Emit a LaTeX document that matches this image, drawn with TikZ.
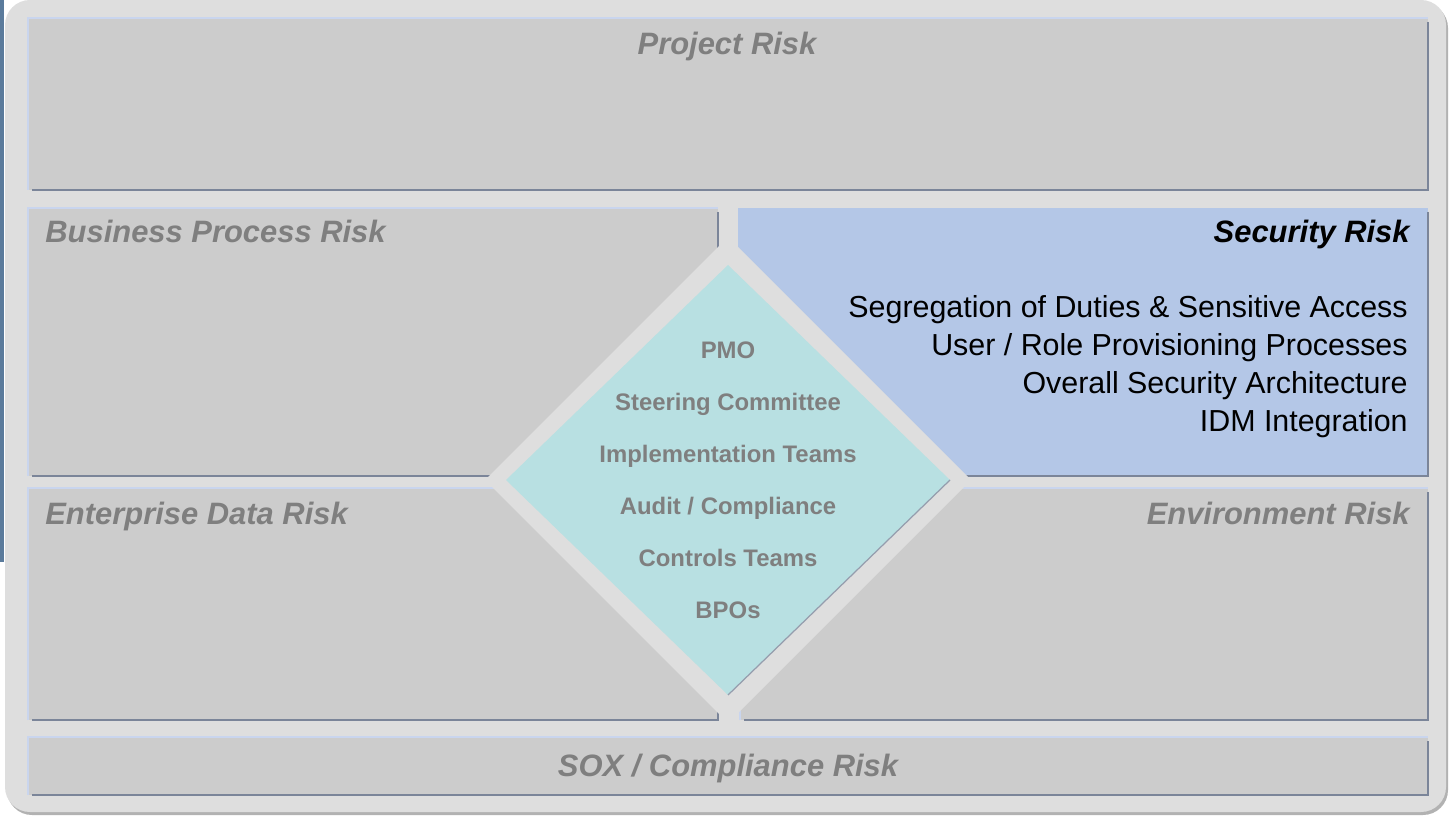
\documentclass[tikz,border=0pt]{standalone}
\usepackage{fontspec}
\setmainfont{Liberation Sans}
\definecolor{panelgray}{HTML}{DEDEDE}
\definecolor{boxgray}{HTML}{CCCCCC}
\definecolor{secblue}{HTML}{B4C7E7}
\definecolor{diamondfill}{HTML}{B8E0E2}
\definecolor{shadeline}{HTML}{7B8599}
\definecolor{lightline}{HTML}{C9D5EE}
\definecolor{titlegray}{HTML}{7F7F7F}
\definecolor{stripblue}{HTML}{5B7B9C}
\tikzset{
  riskbox/.style={fill=boxgray},
  hiline/.style={lightline, line width=0.6pt},
  loline/.style={shadeline, line width=1.4pt},
  risktitle/.style={font=\fontsize{17.6}{20}\selectfont\bfseries\itshape, text=titlegray, inner sep=0pt},
  secitem/.style={font=\fontsize{17.3}{20}\selectfont, inner sep=0pt, anchor=base east},
  role/.style={font=\fontsize{13.6}{16}\selectfont\bfseries, text=titlegray, inner sep=0pt, anchor=base},
}
\begin{document}
\begin{tikzpicture}[x=0.02cm,y=-0.02cm]
\useasboundingbox (0,0) rectangle (1449,817);
%\draw[step=50,gray,very thin] (0,0) grid (1449,817); %background grid
\fill[stripblue] (0,0) rectangle (4,562);
% outer panel
\fill[gray!60, rounded corners=0.5cm] (7,3) rectangle (1448,815);
\fill[panelgray, rounded corners=0.5cm] (5,0) rectangle (1446,812);

% project
\fill[riskbox] (28,18) rectangle (1428,190);
\draw[hiline] (28,190) |- (1428,18);
\draw[loline] (1428,22) |- (32,190);
% business process
\fill[riskbox] (28,208) rectangle (718,476);
\draw[hiline] (28,476) |- (718,208);
\draw[loline] (718,212) |- (32,476);
% security
\fill[secblue] (738,208) rectangle (1428,476);
\draw[loline] (1428,212) |- (742,476);
% enterprise data
\fill[riskbox] (28,488) rectangle (718,720);
\draw[hiline] (28,720) |- (718,488);
\draw[loline] (718,492) |- (32,720);
% environment
\fill[riskbox] (740,488) rectangle (1428,720);
\draw[hiline] (740,720) |- (1428,488);
\draw[loline] (1428,492) |- (744,720);
% sox
\fill[riskbox] (28,737) rectangle (1428,795);
\draw[hiline] (28,795) |- (1428,737);
\draw[loline] (1428,741) |- (32,795);

% diamond
\fill[panelgray] (728,237) -- (971,480) -- (728,723) -- (485,480) -- cycle;
\fill[diamondfill] (728,265) -- (950,480) -- (728,695) -- (506,480) -- cycle;
\draw[shadeline!80, line width=0.7pt] (950,480) -- (728,695);

\node[risktitle, anchor=base] (project) at (727,55) {Project Risk};
\node[risktitle, anchor=base west] (business) at (45,243) {Business Process Risk};
\node[risktitle, anchor=base east, text=black] (security) at (1410,243) {Security Risk};
\node[risktitle, anchor=base west] (enterprise) at (45,524) {Enterprise Data Risk};
\node[risktitle, anchor=base east] (environment) at (1410,524) {Environment Risk};
\node[risktitle, anchor=base] (sox) at (728,776) {SOX / Compliance Risk};

\foreach \item [count=\i] in {Segregation of Duties \& Sensitive Access, User / Role Provisioning Processes, Overall Security Architecture, IDM Integration}
  \node[secitem] (sec\i) at (1408,279+38*\i) {\item};

\foreach \role [count=\i] in {PMO, Steering Committee, Implementation Teams, Audit / Compliance, Controls Teams, BPOs}
  \node[role] (role\i) at (728,306+52*\i) {\role};

\end{tikzpicture}
\end{document}
